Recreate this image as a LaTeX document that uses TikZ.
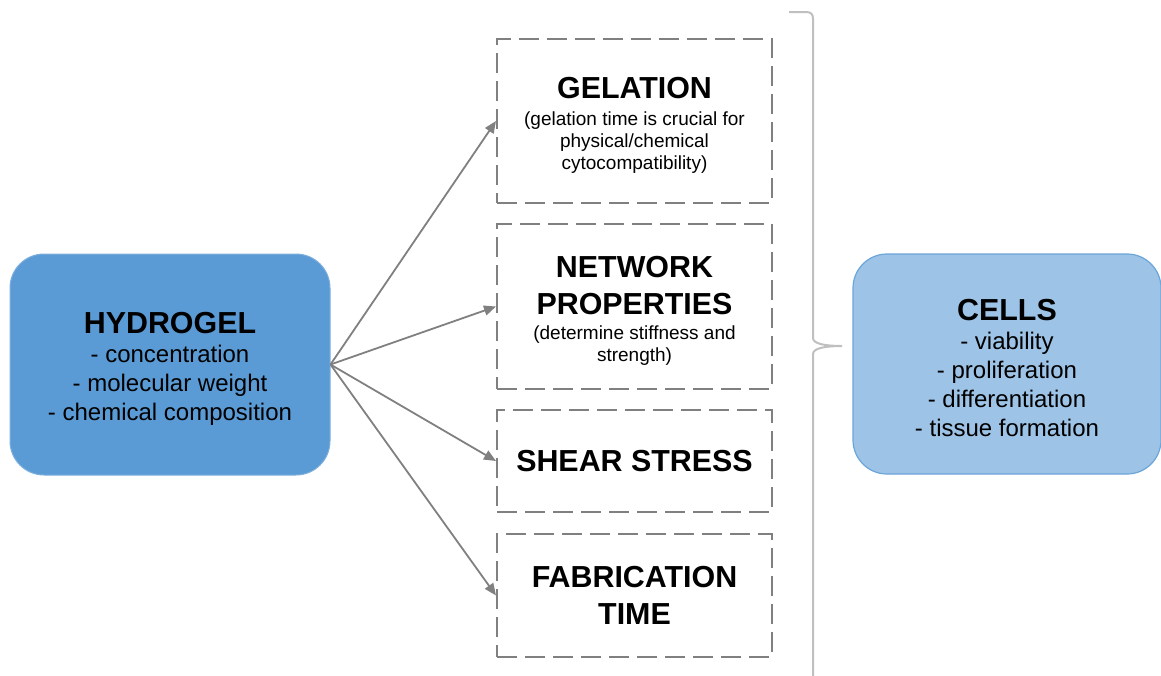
\documentclass[tikz,border=0pt]{standalone}
\usepackage{fontspec}
\setmainfont{Liberation Sans}
\usetikzlibrary{arrows.meta}

\definecolor{gelblue}{RGB}{91,155,213}
\definecolor{cellblue}{RGB}{157,195,230}
\definecolor{linegray}{RGB}{128,128,128}
\definecolor{bracegray}{RGB}{191,191,191}

\newcommand{\titlefont}{\fontsize{15.2}{18.5}\selectfont\bfseries}
\newcommand{\topgap}{\rule{0pt}{15pt}}

\tikzset{
  mainbox/.style={rounded corners=17pt, align=center, inner sep=0pt,
                  font=\fontsize{12}{14.5}\selectfont},
  factorbox/.style={draw=linegray, line width=1pt, dash pattern=on 10pt off 4pt,
                    minimum width=137.5pt, align=center, inner sep=0pt,
                    font=\fontsize{9.5}{11}\selectfont},
  arrow/.style={linegray, line width=0.9pt, -{Triangle[length=6pt,width=5pt]}}
}

\begin{document}
\begin{tikzpicture}[x=0.5pt, y=-0.5pt]
\useasboundingbox (0,0) rectangle (1161,675);

% left and right boxes
\node[mainbox, fill=gelblue, draw=gelblue!80!white, line width=0.5pt,
      minimum width=160pt, minimum height=110.5pt] (hydrogel) at (170,364.5)
  {\topgap{\titlefont HYDROGEL}\\ - concentration\\ - molecular weight\\ - chemical composition};
\node[mainbox, fill=cellblue, draw=gelblue!90!white, line width=0.6pt,
      minimum width=154pt, minimum height=110pt] (cells) at (1007,364)
  {\topgap{\titlefont CELLS}\\ - viability\\ - proliferation\\ - differentiation\\ - tissue formation};

% factors
\node[factorbox, minimum height=82pt] (gelation) at (634.5,121)
  {\topgap{\titlefont GELATION}\\[2.5pt] (gelation time is crucial for\\ physical/chemical\\ cytocompatibility)};
\node[factorbox, minimum height=82.5pt] (network) at (634.5,306.5)
  {\topgap{\titlefont NETWORK}\\[7.5pt] {\titlefont PROPERTIES}\\[1.5pt] (determine stiffness and\\ strength)};
\node[factorbox, minimum height=51pt] (shear) at (634.5,461)
  {\titlefont SHEAR STRESS};
\node[factorbox, minimum height=61.5pt] (fabrication) at (634.5,595.5)
  {{\titlefont FABRICATION}\\[7.5pt] {\titlefont TIME}};

% arrows
\draw[arrow] (hydrogel.east) -- (gelation.west);
\draw[arrow] (hydrogel.east) -- (network.west);
\draw[arrow] (hydrogel.east) -- (shear.west);
\draw[arrow] (hydrogel.east) -- (fabrication.west);

% brace
\draw[bracegray, line width=1pt] (789,12) -- (806,12)
  .. controls (811,12) and (813,14) .. (813,19) -- (813,338)
  .. controls (813,344) and (826,346) .. (842,346)
  .. controls (826,346) and (813,348) .. (813,354) -- (813,680);
\end{tikzpicture}
\end{document}
